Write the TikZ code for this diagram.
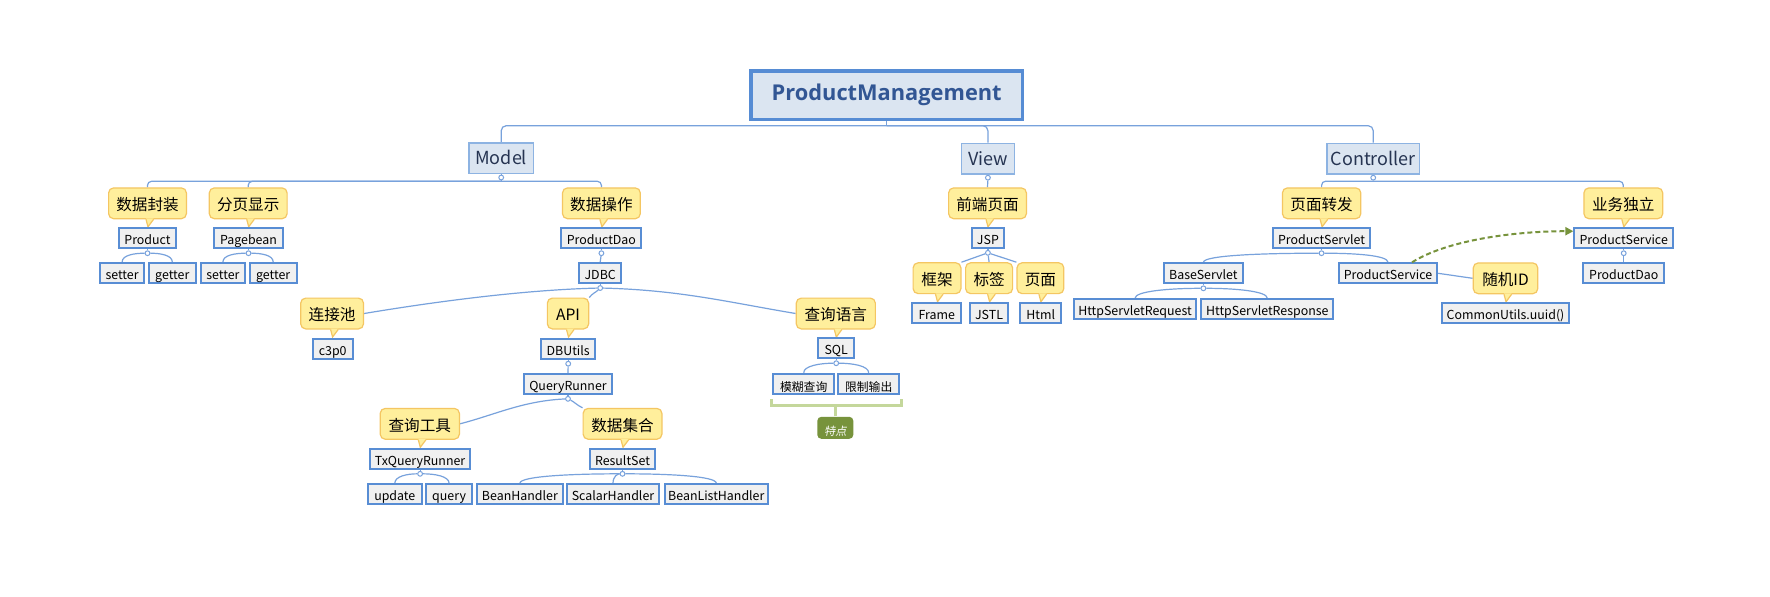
\documentclass[tikz,border=0pt]{standalone}
\usepackage{fontspec}
\setmainfont{Noto Sans CJK SC}
\newfontfamily\titlefont{Open Sans}
\newfontfamily\slcjk{Noto Sans CJK SC}[FakeSlant=0.2]
\usetikzlibrary{calc,backgrounds,arrows.meta}
\definecolor{connblue}{RGB}{120,162,220}
\definecolor{boxblue}{RGB}{88,141,212}
\definecolor{boxfill}{RGB}{240,240,240}
\definecolor{lfill}{RGB}{219,229,241}
\definecolor{lborder}{RGB}{141,179,226}
\definecolor{ltext}{RGB}{38,52,82}
\definecolor{rootborder}{RGB}{86,140,212}
\definecolor{roottext}{RGB}{50,86,148}
\definecolor{cofill}{RGB}{255,239,156}
\definecolor{coborder}{RGB}{244,198,98}
\definecolor{olivegr}{RGB}{119,147,60}
\definecolor{brgreen}{RGB}{196,215,155}
\newcommand\mkcallout[5]{%
  \node[co=#4] (#1) at (#2,#3) {#5};
  \fill[cofill] ($(#1.south)+(-1.5,-0.9)$) -- ($(#1.south)+(6.2,-0.9)$) -- ($(#1.south)+(0.5,7.5)$) -- cycle;
  \draw[coedge] ($(#1.south)+(-1.5,0)$) -- ($(#1.south)+(0.5,7.5)$) -- ($(#1.south)+(6.1,0)$);
}
\newcommand\twig[2]{\draw[conn] (#1) .. controls ($(#1)!0.5!(#1 -| #2.north)$) and ($(#2.north)+(0,-7)$) .. (#2.north);}
\begin{document}
\begin{tikzpicture}[x=0.5pt,y=-0.5pt,
  conn/.style={draw=connblue, line width=0.6pt},
  bx/.style={draw=boxblue, fill=boxfill, line width=1pt, inner sep=0pt, minimum height=10pt,
    text height=0.8em, text depth=0.14em, font=\fontsize{6.2}{8}\selectfont, text=black},
  bxw/.style={bx, minimum width=#1*0.5pt-1pt},
  bxc/.style={bxw=#1, font=\fontsize{5.9}{7}\selectfont, text height=0.86em, text depth=0.12em},
  l1/.style={draw=lborder, fill=lfill, line width=0.75pt, inner sep=0pt, minimum height=15.25pt,
    minimum width=#1*0.5pt-0.75pt, font=\fontsize{9}{11}\selectfont, text=ltext,
    text height=0.8em, text depth=0.14em},
  co/.style={draw=coborder, fill=cofill, line width=0.6pt, rounded corners=2.5pt, inner sep=0pt,
    minimum height=15.4pt, minimum width=#1*0.5pt-0.6pt, font=\fontsize{7.8}{9}\selectfont,
    text=black, text height=0.84em, text depth=0.12em},
  coedge/.style={draw=coborder, line width=0.6pt},
  rootst/.style={draw=rootborder, fill=lfill, line width=1.6pt, inner sep=0pt,
    minimum width=135.7pt, minimum height=24.2pt, text=roottext,
    font=\titlefont\bfseries\fontsize{10.9}{13}\selectfont},
  anc/.style={circle, draw=connblue, fill=white, line width=0.5pt, minimum size=2.4pt, inner sep=0pt},
  bracket/.style={draw=brgreen, line width=1.35pt},
  dasharrow/.style={draw=olivegr, line width=1pt, dash pattern=on 2.5pt off 1.5pt,
    -{Triangle[length=4pt,width=4pt]}}
]
\useasboundingbox (0,0) rectangle (1770,596);

% root and level 1
\node[rootst] (root) at (886.7,95.2) {ProductManagement};
\node[l1=66] (model) at (501.2,158.3) {Model};
\node[l1=54.3] (view) at (987.9,158.5) {View};
\node[l1=93.6] (ctrl) at (1373.2,158.5) {Controller};

% Model branch
\mkcallout{csjfz}{147.5}{203.3}{79}{数据封装}
\mkcallout{cfyxs}{248.2}{203.3}{79}{分页显示}
\mkcallout{csjcz}{601.4}{203.3}{79}{数据操作}
\node[bxw=59] (product) at (147.5,238.2) {Product};
\node[bxw=70.7] (pagebean) at (248.5,238.2) {Pagebean};
\node[bxw=82] (pdao) at (601.4,238.2) {ProductDao};
\node[bxw=46.5] (setter1) at (122.1,273) {setter};
\node[bxw=49] (getter1) at (172.3,273) {getter};
\node[bxw=46.5] (setter2) at (222.9,273) {setter};
\node[bxw=48.6] (getter2) at (273.2,273) {getter};
\node[bxw=44] (jdbc) at (600.2,273) {JDBC};
\mkcallout{cljc}{332.1}{313.5}{64}{连接池}
\mkcallout{capi}{568}{313.5}{42.5}{API}
\mkcallout{ccxyy}{835.8}{313.5}{80.3}{查询语言}
\node[bxw=42] (c3p0) at (332.7,348.7) {c3p0};
\node[bxw=56.4] (dbutils) at (568.2,348.7) {DBUtils};
\node[bxw=37.7] (sql) at (836.2,348.2) {SQL};
\node[bxw=89.7] (qr) at (568,383.8) {QueryRunner};
\node[bxc=62.7] (mohu) at (803.7,383.8) {模糊查询};
\node[bxc=62.7] (xianzhi) at (868.7,383.8) {限制输出};
\mkcallout{ccxgj}{419.8}{423.8}{80.4}{查询工具}
\mkcallout{csjjh}{622.5}{423.8}{80}{数据集合}
\node[bxw=102.5] (txqr) at (420.1,458.8) {TxQueryRunner};
\node[bxw=67.8] (rs) at (622.5,458.8) {ResultSet};
\node[bxw=55.4] (update) at (394.8,494.2) {update};
\node[bxw=47.5] (query) at (449.1,494.2) {query};
\node[bxw=87.5] (beanh) at (519.9,494.2) {BeanHandler};
\node[bxw=94] (scalarh) at (613,494.2) {ScalarHandler};
\node[bxw=105.3] (beanlisth) at (716.3,494.2) {BeanListHandler};
\node[fill=olivegr, rounded corners=2pt, minimum width=18pt, minimum height=11pt, inner sep=0pt,
  text=white, font=\slcjk\fontsize{5.6}{7}\selectfont, text height=0.86em, text depth=0.12em]
  (tedian) at (835.3,427.8) {特点};

% View branch
\mkcallout{cqdym}{987.5}{203.3}{79}{前端页面}
\node[bxw=34.3] (jsp) at (987.9,237.8) {JSP};
\mkcallout{ckj}{937}{278.2}{49}{框架}
\mkcallout{cbq}{989.1}{278.2}{48.2}{标签}
\mkcallout{cym}{1040.4}{278.2}{48}{页面}
\node[bxw=50.7] (frame) at (936.8,312.8) {Frame};
\node[bxw=39.3] (jstl) at (989,312.8) {JSTL};
\node[bxw=42.8] (html) at (1040.7,312.8) {Html};

% Controller branch
\mkcallout{cymzf}{1321.6}{203.3}{79.6}{页面转发}
\mkcallout{cywdl}{1623.3}{203.3}{80}{业务独立}
\node[bxw=99.3] (pservlet) at (1321.5,238.2) {ProductServlet};
\node[bxw=100.7] (psr) at (1623.7,238.2) {ProductService};
\node[bxw=80.4] (base) at (1203.4,273.3) {BaseServlet};
\node[bxw=100.3] (psl) at (1388,273.3) {ProductService};
\node[bxw=82.7] (pdao2) at (1623.7,273.2) {ProductDao};
\mkcallout{csjid}{1505.5}{278.3}{65.7}{随机ID}
\node[bxw=124.3] (hreq) at (1135,309.2) {HttpServletRequest};
\node[bxw=134] (hresp) at (1267.3,309.2) {HttpServletResponse};
\node[bxw=129] (uuid) at (1505.5,312.5) {CommonUtils.uuid()};

% anchor circles
\foreach \p in {model,view,ctrl}
  \node[anc] (\p-a) at ($(\p.south)+(0,3.2)$) {};
\foreach \p in {product,pagebean,pdao,jdbc,dbutils,qr,txqr,rs,sql,jsp,pservlet,base,psr}
  \node[anc] (\p-a) at ($(\p.south)+(0,4)$) {};

% bracket with label
\coordinate (brL) at ($(mohu.south west)+(-1.2,4.5)$);
\coordinate (brR) at ($(xianzhi.south east)+(1.2,4.5)$);
\coordinate (brM) at ($(brL)+(0,6)$);
\draw[bracket] (brL) -- (brM) -| (brR);
\draw[bracket] (tedian.north) -- (tedian.north |- brM);

% dashed relation
\coordinate (dS) at ($(psl.north)+(24,0)$);
\coordinate (dE) at ($(psr.west)+(0,-7)$);
\draw[dasharrow] (dS) .. controls +(35,-22) and +(-60,0) .. (dE);

\begin{scope}[on background layer]
\fill[white] (0,0) rectangle (1770,596);
\foreach \p in {model,view,ctrl,product,pagebean,pdao,jdbc,dbutils,qr,txqr,rs,sql,jsp,pservlet,base,psr}
  \draw[conn] (\p.south) -- (\p-a);
% root to level 1
\coordinate (rj) at ($(root.south)+(0,4.7)$);
\draw[conn] (root.south) -- (rj);
\draw[conn, rounded corners=2.5pt] (rj) -| (model.north);
\draw[conn, rounded corners=2.5pt] (rj) -| (view.north);
\draw[conn, rounded corners=2.5pt] (rj) -| (ctrl.north);
% model children
\coordinate (mj) at ($(model.south)+(0,7)$);
\draw[conn] (model-a) -- (mj);
\draw[conn, rounded corners=2pt] (mj) -| (csjfz.north);
\draw[conn, rounded corners=2pt] (mj) -| (cfyxs.north);
\draw[conn, rounded corners=2pt] (mj) -| (csjcz.north);
% view children
\draw[conn] (view-a) -- (cqdym.north);
% controller children
\coordinate (cj) at ($(ctrl.south)+(0,6.7)$);
\draw[conn] (ctrl-a) -- (cj);
\draw[conn, rounded corners=2pt] (cj) -| (cymzf.north);
\draw[conn, rounded corners=2pt] (cj) -| (cywdl.north);
% twigs
\twig{product-a}{setter1}
\twig{product-a}{getter1}
\twig{pagebean-a}{setter2}
\twig{pagebean-a}{getter2}
\twig{txqr-a}{update}
\twig{txqr-a}{query}
\twig{rs-a}{beanh}
\twig{rs-a}{scalarh}
\twig{rs-a}{beanlisth}
\twig{sql-a}{mohu}
\twig{sql-a}{xianzhi}
\twig{pservlet-a}{base}
\twig{pservlet-a}{psl}
\twig{base-a}{hreq}
\twig{base-a}{hresp}
% straight links
\draw[conn] (pdao-a) -- (jdbc.north);
\draw[conn] (dbutils-a) -- (qr.north);
\draw[conn] (psr-a) -- (pdao2.north);
\draw[conn] (psl.east) -- (csjid.west);
\draw[conn] (jsp-a) -- (ckj.north east);
\draw[conn] (jsp-a) -- (cbq.north);
\draw[conn] (jsp-a) -- (cym.north west);
% long arcs
\draw[conn] (jdbc-a) .. controls +(-80,2) and +(66,-11) .. (cljc.east);
\draw[conn] (jdbc-a) .. controls +(-4,4) and +(3,-4) .. (capi.north east);
\draw[conn] (jdbc-a) .. controls +(80,2) and +(-66,-11) .. (ccxyy.west);
\draw[conn] (qr-a) .. controls +(-45,2) and +(35,-9) .. (ccxgj.east);
\draw[conn] (qr-a) .. controls +(6,3) and +(-6,-3) .. (csjjh.north west);
\end{scope}
\end{tikzpicture}
\end{document}
